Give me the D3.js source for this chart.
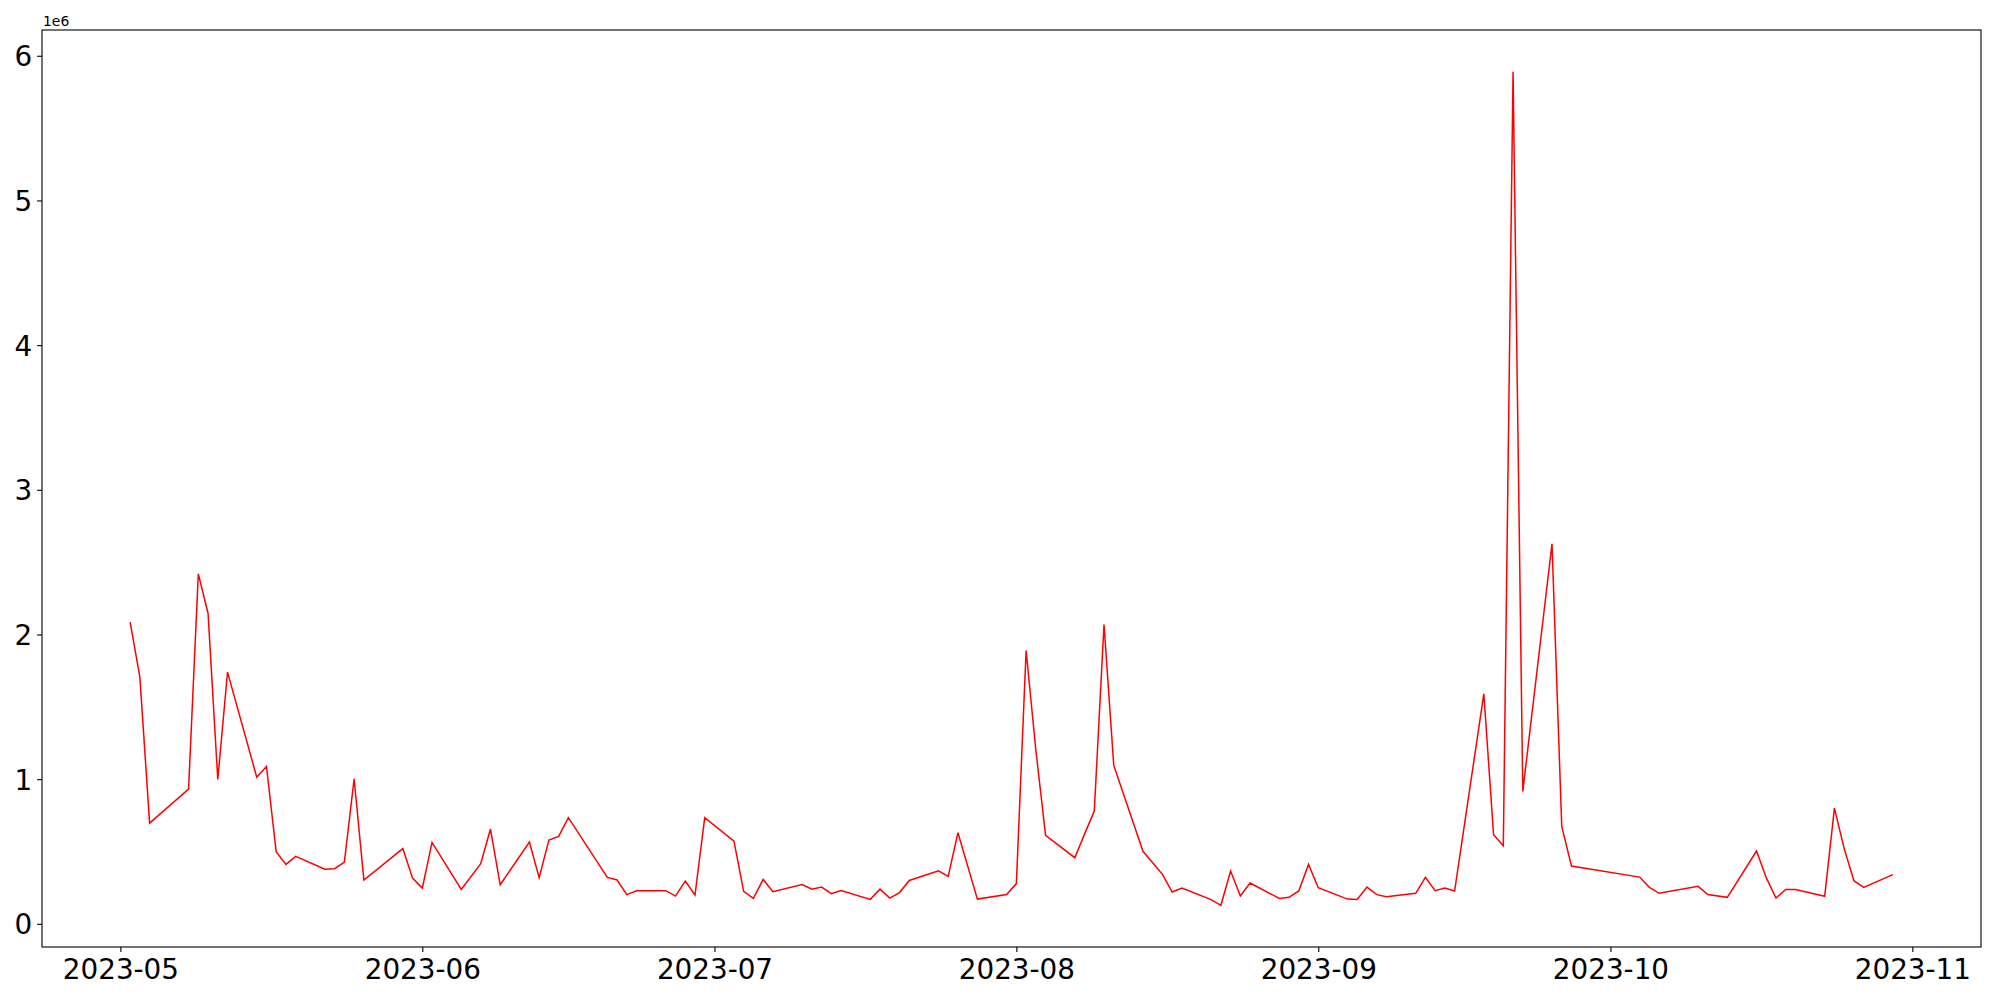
<!DOCTYPE html>
<html>
<head>
<meta charset="utf-8">
<script src="https://cdn.jsdelivr.net/npm/d3@7"></script>
<style>
  html, body { margin: 0; padding: 0; background: #fff; }
  svg { display: block; font-family: "DejaVu Sans", sans-serif; }
</style>
</head>
<body>
<div id="chart"></div>
<script>
// Daily series
const dates = [
  '2023-05-02', '2023-05-03', '2023-05-04', '2023-05-08', '2023-05-09', '2023-05-10', '2023-05-11', '2023-05-12',
  '2023-05-15', '2023-05-16', '2023-05-17', '2023-05-18', '2023-05-19', '2023-05-22', '2023-05-23', '2023-05-24',
  '2023-05-25', '2023-05-26', '2023-05-30', '2023-05-31', '2023-06-01', '2023-06-02', '2023-06-05', '2023-06-07',
  '2023-06-08', '2023-06-09', '2023-06-12', '2023-06-13', '2023-06-14', '2023-06-15', '2023-06-16', '2023-06-20',
  '2023-06-21', '2023-06-22', '2023-06-23', '2023-06-26', '2023-06-27', '2023-06-28', '2023-06-29', '2023-06-30',
  '2023-07-03', '2023-07-04', '2023-07-05', '2023-07-06', '2023-07-07', '2023-07-10', '2023-07-11', '2023-07-12',
  '2023-07-13', '2023-07-14', '2023-07-17', '2023-07-18', '2023-07-19', '2023-07-20', '2023-07-21', '2023-07-24',
  '2023-07-25', '2023-07-26', '2023-07-28', '2023-07-31', '2023-08-01', '2023-08-02', '2023-08-03', '2023-08-04',
  '2023-08-07', '2023-08-08', '2023-08-09', '2023-08-10', '2023-08-11', '2023-08-14', '2023-08-16', '2023-08-17',
  '2023-08-18', '2023-08-21', '2023-08-22', '2023-08-23', '2023-08-24', '2023-08-25', '2023-08-28', '2023-08-29',
  '2023-08-30', '2023-08-31', '2023-09-01', '2023-09-04', '2023-09-05', '2023-09-06', '2023-09-07', '2023-09-08',
  '2023-09-11', '2023-09-12', '2023-09-13', '2023-09-14', '2023-09-15', '2023-09-18', '2023-09-19', '2023-09-20',
  '2023-09-21', '2023-09-22', '2023-09-25', '2023-09-26', '2023-09-27', '2023-10-04', '2023-10-05', '2023-10-06',
  '2023-10-10', '2023-10-11', '2023-10-13', '2023-10-16', '2023-10-17', '2023-10-18', '2023-10-19', '2023-10-20',
  '2023-10-23', '2023-10-24', '2023-10-25', '2023-10-26', '2023-10-27', '2023-10-30'
];

const values = [
  2085000, 1705000, 696000, 931000, 2419000, 2147000, 998000, 1740000,
  1014000, 1088000, 496000, 411000, 466000, 377000, 381000, 427000,
  1003000, 303000, 520000, 316000, 247000, 563000, 238000, 416000,
  655000, 270000, 565000, 319000, 579000, 604000, 734000, 321000,
  303000, 202000, 229000, 229000, 192000, 296000, 199000, 734000,
  572000, 225000, 176000, 307000, 222000, 271000, 240000, 254000,
  209000, 231000, 169000, 240000, 178000, 216000, 300000, 367000,
  328000, 630000, 171000, 202000, 278000, 1889000, 1200000, 611000,
  457000, 620000, 779000, 2069000, 1095000, 501000, 342000, 220000,
  247000, 167000, 128000, 365000, 192000, 282000, 176000, 183000,
  227000, 411000, 250000, 171000, 169000, 254000, 202000, 188000,
  211000, 321000, 229000, 247000, 227000, 1590000, 616000, 540000,
  5890000, 915000, 2627000, 674000, 399000, 323000, 252000, 211000,
  259000, 202000, 183000, 503000, 319000, 178000, 238000, 238000,
  190000, 800000, 520000, 298000, 252000, 340000
];

const xTickDates = ['2023-05-01', '2023-06-01', '2023-07-01', '2023-08-01', '2023-09-01', '2023-10-01', '2023-11-01'];
const yTickValues = [0, 1000000, 2000000, 3000000, 4000000, 5000000, 6000000];
const offsetLabel = '1e6';

// Layout, matplotlib-like
const CONFIG = {
  width: 2000,
  height: 1000,
  margin: { top: 30, right: 19, bottom: 53, left: 42 },
  lineColor: '#ff0000',
  lineWidth: 1.5,
  tickFont: 27.8,
  offsetFont: 13.9,
  tickLength: 4.9,
  tickPad: 4.9
};

const parseDate = d3.utcParse('%Y-%m-%d');
const series = dates.map((d, i) => ({ date: parseDate(d), value: values[i] }));

const svg = d3.select('#chart')
  .append('svg')
  .attr('width', CONFIG.width)
  .attr('height', CONFIG.height);

const innerW = CONFIG.width - CONFIG.margin.left - CONFIG.margin.right;
const innerH = CONFIG.height - CONFIG.margin.top - CONFIG.margin.bottom;

// 5% padding on both axes like matplotlib autoscale
const [xMin, xMax] = d3.extent(series, d => d.date);
const xPad = (xMax - xMin) * 0.05;
const [yMin, yMax] = d3.extent(series, d => d.value);
const yPad = (yMax - yMin) * 0.05;

const x = d3.scaleUtc()
  .domain([new Date(+xMin - xPad), new Date(+xMax + xPad)])
  .range([0, innerW]);

const y = d3.scaleLinear()
  .domain([yMin - yPad, yMax + yPad])
  .range([innerH, 0]);

const g = svg.append('g')
  .attr('transform', `translate(${CONFIG.margin.left},${CONFIG.margin.top})`);

// Line
const line = d3.line()
  .x(d => x(d.date))
  .y(d => y(d.value));

g.append('path')
  .datum(series)
  .attr('fill', 'none')
  .attr('stroke', CONFIG.lineColor)
  .attr('stroke-width', CONFIG.lineWidth)
  .attr('stroke-linejoin', 'miter')
  .attr('d', line);

// Axes
const xAxis = d3.axisBottom(x)
  .tickValues(xTickDates.map(parseDate))
  .tickFormat(d3.utcFormat('%Y-%m'))
  .tickSize(CONFIG.tickLength)
  .tickPadding(CONFIG.tickPad);

const yAxis = d3.axisLeft(y)
  .tickValues(yTickValues)
  .tickFormat(d => d3.format('d')(d / 1e6))
  .tickSize(CONFIG.tickLength)
  .tickPadding(CONFIG.tickPad);

const gx = g.append('g')
  .attr('transform', `translate(0,${innerH})`)
  .call(xAxis);

const gy = g.append('g').call(yAxis);

[gx, gy].forEach(ax => {
  ax.select('.domain').remove();
  ax.selectAll('.tick line').attr('stroke', '#000').attr('stroke-width', 1.1);
  ax.selectAll('.tick text')
    .attr('fill', '#000')
    .style('font-size', CONFIG.tickFont + 'px')
    .style('font-family', '"DejaVu Sans", sans-serif');
});

gx.selectAll('.tick text').attr('dy', '0.8em');
gy.selectAll('.tick text').attr('dy', '0.36em');

// Frame (all four spines)
g.append('rect')
  .attr('x', 0)
  .attr('y', 0)
  .attr('width', innerW)
  .attr('height', innerH)
  .attr('fill', 'none')
  .attr('stroke', '#000')
  .attr('stroke-width', 1.1);

// Scientific offset text above the y axis
g.append('text')
  .attr('x', 1)
  .attr('y', -4)
  .style('font-size', CONFIG.offsetFont + 'px')
  .style('font-family', '"DejaVu Sans", sans-serif')
  .attr('fill', '#000')
  .text(offsetLabel);
</script>
</body>
</html>
